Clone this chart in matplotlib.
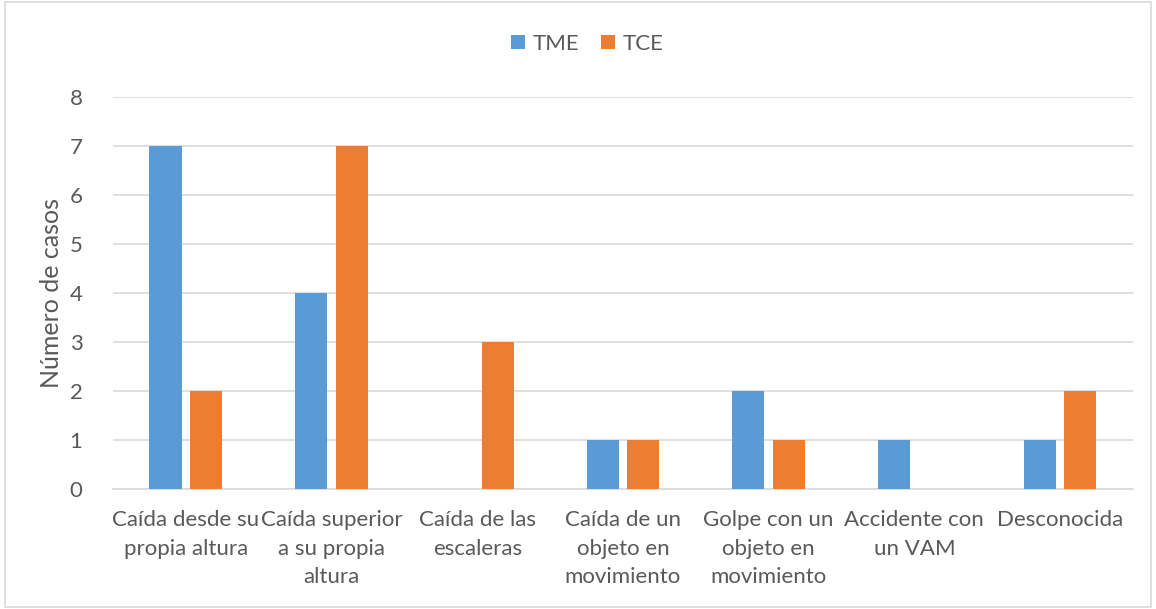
import numpy as np
import matplotlib
matplotlib.use("Agg")
import matplotlib.pyplot as plt
from matplotlib.patches import Rectangle

categories = ["Caída desde su\npropia altura", "Caída superior\na su propia\naltura",
              "Caída de las\nescaleras", "Caída de un\nobjeto en\nmovimiento",
              "Golpe con un\nobjeto en\nmovimiento", "Accidente con\nun VAM", "Desconocida"]
tme = [7, 4, 0, 1, 2, 1, 1]
tce = [2, 7, 3, 1, 1, 0, 2]

BLUE = "#5B9BD5"
ORANGE = "#ED7D31"
TEXT = "#595959"

plt.rcParams["font.family"] = ["Lato", "DejaVu Sans"]

fig = plt.figure(figsize=(11.56, 6.09), dpi=100)
ax = fig.add_axes([0.0978, 0.197, 0.8822, 0.644])

x = np.arange(len(categories))
w = 0.22
ax.bar(x - 0.14, tme, w, color=BLUE, label="TME", zorder=3)
ax.bar(x + 0.14, tce, w, color=ORANGE, label="TCE", zorder=3)

ax.set_xlim(-0.5, len(categories) - 0.5)
ax.set_ylim(0, 8)
ax.set_yticks(range(0, 9))
ax.yaxis.grid(True, color="#D9D9D9", linewidth=1.2, zorder=0)
ax.set_xticks(x)
ax.set_xticklabels(categories, fontsize=16, color=TEXT, linespacing=1.55)
ax.tick_params(axis="y", labelsize=16, labelcolor=TEXT, length=0, pad=22)
ax.tick_params(axis="x", length=0, pad=15)
for s in ["top", "right", "left"]:
    ax.spines[s].set_visible(False)
ax.spines["bottom"].set_color("#D9D9D9")
ax.spines["bottom"].set_linewidth(1.2)
ax.set_ylabel("Número de casos", fontsize=18, color=TEXT, labelpad=5)

fig.legend(*ax.get_legend_handles_labels(), loc="center", bbox_to_anchor=(0.508, 0.928),
           ncol=2, frameon=False, fontsize=16, labelcolor=TEXT, handlelength=0.6,
           handleheight=0.6, handletextpad=0.35, columnspacing=1.0)

# chart frame
fig.patches.append(Rectangle((0.004, 0.003), 0.992, 0.994, transform=fig.transFigure,
                             fill=False, edgecolor="#D9D9D9", linewidth=1.2))

fig.savefig("out.png", dpi=100)
